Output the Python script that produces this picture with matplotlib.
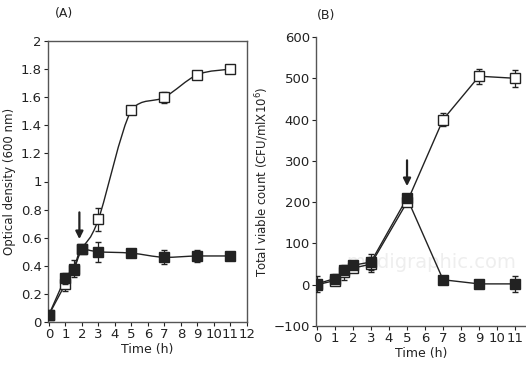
import numpy as np
import matplotlib
matplotlib.use("Agg")
import matplotlib.pyplot as plt
from matplotlib.path import Path
from matplotlib.patches import PathPatch

# ---- Data ----
time_a = [0, 1, 1.5, 2, 3, 5, 7, 9, 11]
od_open = [0.05, 0.27, 0.37, 0.52, 0.73, 1.51, 1.60, 1.76, 1.80]
od_open_err = [0.0, 0.05, 0.03, 0.0, 0.08, 0.0, 0.04, 0.03, 0.0]
od_filled = [0.05, 0.31, 0.38, 0.52, 0.50, 0.49, 0.46, 0.47, 0.47]
od_filled_err = [0.0, 0.04, 0.06, 0.0, 0.07, 0.0, 0.05, 0.04, 0.0]

time_b = [0, 1, 1.5, 2, 3, 5, 7, 9, 11]
cfu_open = [0, 10, 30, 40, 50, 200, 400, 505, 500]
cfu_open_err = [0, 10, 18, 10, 18, 5, 15, 18, 20]
cfu_filled = [2, 15, 35, 47, 55, 210, 12, 2, 2]
cfu_filled_err = [20, 12, 10, 10, 20, 5, 10, 8, 20]

yticks_a = [0, 0.2, 0.4, 0.6, 0.8, 1, 1.2, 1.4, 1.6, 1.8, 2]
yticklabels_a = ["0", "0.2", "0.4", "0.6", "0.8", "1", "1.2", "1.4", "1.6", "1.8", "2"]
xticks_a = list(range(0, 13))
yticks_b = [-100, 0, 100, 200, 300, 400, 500, 600]
xticks_b = list(range(0, 12))

plt.rcParams['font.family'] = ['DejaVu Sans']
fig = plt.figure(figsize=(5.26, 3.68), dpi=100)

def smooth_path(ax, x, y, **kw):
    # Catmull-Rom style curve through the data points, control points clipped
    # to each segment's range to avoid overshoot
    x = np.asarray(x, float); y = np.asarray(y, float)
    verts = [(x[0], y[0])]; codes = [Path.MOVETO]
    n = len(x)
    for i in range(n - 1):
        p0 = np.array([x[max(i - 1, 0)], y[max(i - 1, 0)]])
        p1 = np.array([x[i], y[i]])
        p2 = np.array([x[i + 1], y[i + 1]])
        p3 = np.array([x[min(i + 2, n - 1)], y[min(i + 2, n - 1)]])
        c1 = p1 + (p2 - p0) / 6.0
        c2 = p2 - (p3 - p1) / 6.0
        lo, hi = min(p1[1], p2[1]), max(p1[1], p2[1])
        c1[1] = np.clip(c1[1], lo, hi)
        c2[1] = np.clip(c2[1], lo, hi)
        verts += [tuple(c1), tuple(c2), tuple(p2)]
        codes += [Path.CURVE4] * 3
    ax.add_patch(PathPatch(Path(verts, codes), fill=False, **kw))

c = '#222222'
TICK = 9.5
# ---- Panel A ----
axA = fig.add_axes([48/526, 1 - 322/368, (247-48)/526, (322-41)/368])
smooth_path(axA, time_a, od_open, lw=1.0, edgecolor=c, zorder=2)
smooth_path(axA, time_a, od_filled, lw=1.0, edgecolor=c, zorder=2)
axA.errorbar(time_a, od_open, yerr=od_open_err, fmt='s', ms=7, mfc='white', mec=c,
             mew=1.0, ecolor=c, elinewidth=0.9, capsize=2.5, zorder=3)
axA.errorbar(time_a, od_filled, yerr=od_filled_err, fmt='s', ms=7, mfc=c, mec=c,
             mew=1.0, ecolor=c, elinewidth=0.9, capsize=2.5, zorder=4)
axA.annotate('', xy=(1.85, 0.57), xytext=(1.85, 0.80),
             arrowprops=dict(arrowstyle='-|>', color=c, lw=1.6, mutation_scale=11))
axA.set_xlim(-0.05, 12)
axA.set_ylim(0, 2)
axA.set_xticks(xticks_a)
axA.set_yticks(yticks_a)
axA.set_yticklabels(yticklabels_a)
axA.tick_params(labelsize=TICK, length=3, width=0.8, colors=c, pad=1.5)
axA.set_xlabel('Time (h)', fontsize=9, color=c, labelpad=1)
axA.set_ylabel('Optical density (600 nm)', fontsize=8.5, color=c, labelpad=3)
for s in axA.spines.values():
    s.set_color('#555555'); s.set_linewidth(1.0)
fig.text(64/526, 1 - 13/368, '(A)', fontsize=9, color=c, ha='center', va='center')

# ---- Panel B ----
axB = fig.add_axes([316/526, 1 - 326/368, (526-316)/526, (326-37)/368])
axB.text(0.55, 0.22, 'medigraphic.com', transform=axB.transAxes, fontsize=14,
         color='#eeeeee', ha='center', va='center', zorder=0)
axB.plot(time_b, cfu_open, color=c, lw=1.0, zorder=2)
axB.plot(time_b, cfu_filled, color=c, lw=1.0, zorder=2)
axB.errorbar(time_b, cfu_open, yerr=cfu_open_err, fmt='s', ms=7, mfc='white', mec=c,
             mew=1.0, ecolor=c, elinewidth=0.9, capsize=2.5, zorder=3)
axB.errorbar(time_b, cfu_filled, yerr=cfu_filled_err, fmt='s', ms=7, mfc=c, mec=c,
             mew=1.0, ecolor=c, elinewidth=0.9, capsize=2.5, zorder=4)
axB.annotate('', xy=(5, 232), xytext=(5, 308),
             arrowprops=dict(arrowstyle='-|>', color=c, lw=1.6, mutation_scale=11))
axB.set_xlim(-0.05, 11.6)
axB.set_ylim(-100, 600)
axB.set_xticks(xticks_b)
axB.set_yticks(yticks_b)
axB.tick_params(labelsize=TICK, length=3, width=0.8, colors=c, pad=1.5)
axB.set_xlabel('Time (h)', fontsize=9, color=c, labelpad=1)
axB.set_ylabel('Total viable count (CFU/mlX10$^6$)', fontsize=8.5, color=c, labelpad=2)
axB.spines['top'].set_visible(False)
axB.spines['right'].set_visible(False)
for s in axB.spines.values():
    s.set_color('#555555'); s.set_linewidth(1.0)
fig.text(326/526, 1 - 15/368, '(B)', fontsize=9, color=c, ha='center', va='center')

fig.savefig('out.png', dpi=100)
